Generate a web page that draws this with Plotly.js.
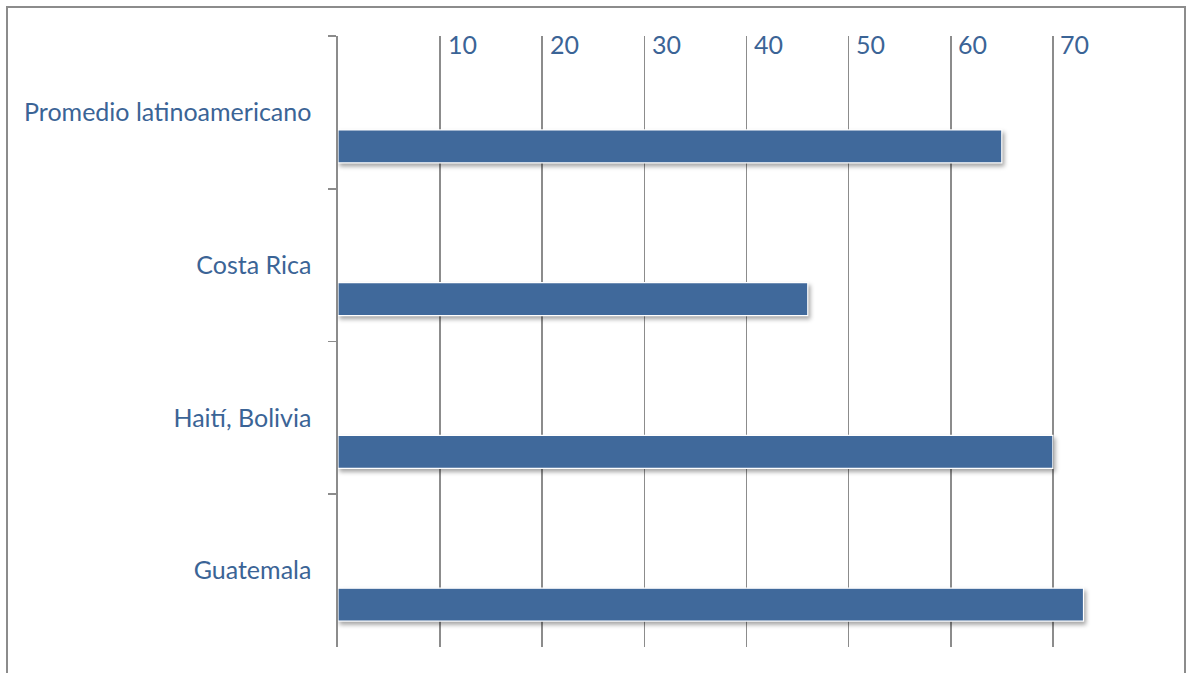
<!DOCTYPE html>
<html>
<head>
<meta charset="utf-8">
<script src="https://cdn.plot.ly/plotly-3.0.1.min.js"></script>
<style>
  html, body { margin: 0; padding: 0; background: #fff; }
  #chart { width: 1186px; height: 673px; }
  #chart .barlayer path { filter: drop-shadow(2px 3px 2px rgba(0,0,0,0.35)); }
</style>
</head>
<body>
<div id="chart"></div>
<script>
// Categories, top to bottom
const categories = ['Promedio latinoamericano', 'Costa Rica', 'Haití, Bolivia', 'Guatemala'];
// Bar values
const values = [65, 46, 70, 73];
// Value-axis gridlines and their labels (no label at 0 and 80)
const gridValues = [0, 10, 20, 30, 40, 50, 60, 70, 80];
const gridLabels = ['', '10', '20', '30', '40', '50', '60', '70', ''];

const textBlue = '#3B6496';
const gridGray = '#8C8C8C';
const fontFamily = 'Lato, "Open Sans", sans-serif';

const trace = {
  type: 'bar',
  orientation: 'h',
  x: values,
  y: categories,
  offset: 0.115,
  width: 0.216,
  marker: {
    color: '#40699B',
    line: { color: '#FFFFFF', width: 1.2 }
  },
  hoverinfo: 'x+y'
};

// Value labels sit just inside the top edge, to the right of each gridline
const valueLabels = gridValues
  .map((v, i) => ({ v: v, t: gridLabels[i] }))
  .filter(d => d.t !== '')
  .map(d => ({
    x: d.v, xref: 'x',
    y: 1, yref: 'paper',
    text: d.t,
    showarrow: false,
    xanchor: 'center', yanchor: 'middle',
    xshift: 22, yshift: -8,
    font: { family: fontFamily, size: 25, color: textBlue }
  }));

const layout = {
  width: 1186,
  height: 673,
  margin: { l: 338, r: 31, t: 36, b: 26, pad: 0 },
  paper_bgcolor: '#FFFFFF',
  plot_bgcolor: '#FFFFFF',
  showlegend: false,
  bargap: 0,
  font: { family: fontFamily, color: textBlue },
  xaxis: {
    range: [0, 80],
    side: 'top',
    tickmode: 'array',
    tickvals: gridValues,
    showticklabels: false,
    ticks: '',
    showgrid: true,
    gridcolor: gridGray,
    gridwidth: 1.6,
    zeroline: false,
    showline: false,
    fixedrange: true
  },
  yaxis: {
    type: 'category',
    categoryorder: 'array',
    categoryarray: categories,
    range: [3.5, -0.5],
    tickson: 'boundaries',
    ticks: 'outside',
    ticklen: 8,
    tickwidth: 1.6,
    tickcolor: gridGray,
    ticklabelstandoff: 20,
    showline: true,
    linecolor: gridGray,
    linewidth: 1.6,
    showgrid: false,
    zeroline: false,
    tickfont: { family: fontFamily, size: 25, color: textBlue },
    fixedrange: true
  },
  annotations: valueLabels,
  shapes: [
    // outer frame around the chart
    {
      type: 'rect', xref: 'paper', yref: 'paper',
      x0: (7 - 338) / 817, x1: (1185 - 338) / 817,
      y0: -0.08, y1: (647 - 7) / 611,
      line: { color: '#8C8C8C', width: 2 },
      fillcolor: 'rgba(0,0,0,0)',
      layer: 'below'
    }
  ]
};

Plotly.newPlot('chart', [trace], layout, { displayModeBar: false, staticPlot: true });
</script>
</body>
</html>
